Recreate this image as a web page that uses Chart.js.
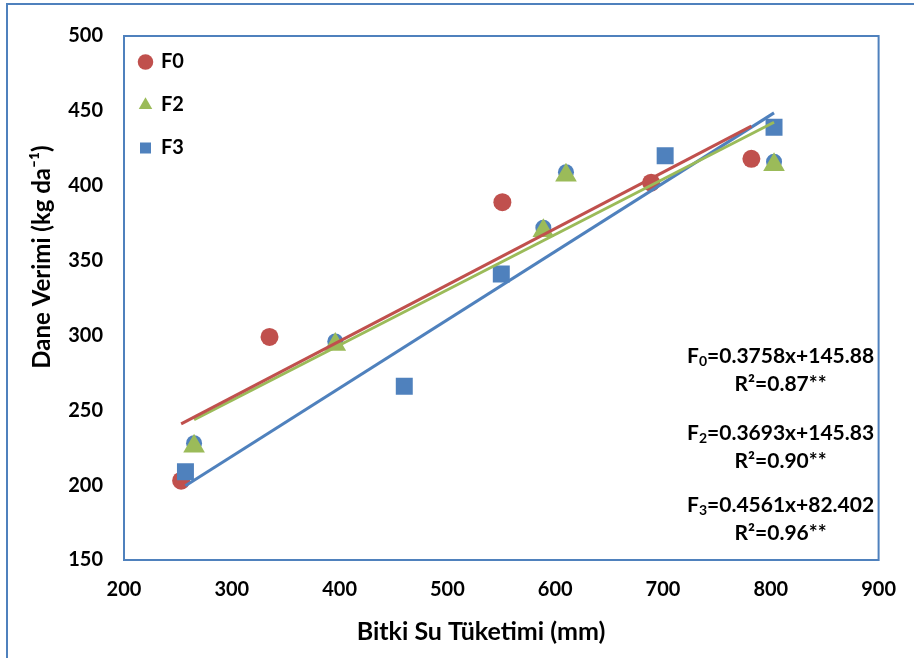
<!DOCTYPE html>
<html lang="tr">

<head>
    <meta charset="UTF-8">
    <title>Dane Verimi - Bitki Su Tüketimi</title>
    <script src="https://cdn.jsdelivr.net/npm/chart.js"></script>
    <style>
        body { margin: 0; background: #fff; overflow: hidden; }
        #wrap { position: relative; width: 914px; height: 658px; }
    </style>
</head>

<body>
    <div id="wrap">
        <canvas id="chart" width="914" height="658"></canvas>
    </div>

    <script>
        // measured points (x = water use mm, y = yield kg/da)
        const f0X = [253, 335, 551, 689, 782];
        const f0Y = [203, 299, 389, 402, 418];
        const f2X = [265, 396, 589, 610, 803];
        const f2Y = [226, 294, 370, 407, 414];
        const f3X = [257, 460, 550, 702, 803];
        const f3Y = [209, 266, 341, 420, 439];
        // blue circles hidden under the triangles (no legend entry)
        const f1X = [265, 396, 589, 610, 803];
        const f1Y = [228, 296, 372, 409, 416];

        // trendline equations shown on the chart: [slope, intercept, R2]
        const f0Fit = [0.3758, 145.88, '0.87'];
        const f2Fit = [0.3693, 145.83, '0.90'];
        const f3Fit = [0.4561, 82.402, '0.96'];

        const xTicks = [200, 300, 400, 500, 600, 700, 800, 900];
        const yTicks = [150, 200, 250, 300, 350, 400, 450, 500];

        const RED = '#C0504D', GREEN = '#9BBB59', BLUE = '#4F81BD';
        const FONT = 'Lato, "Open Sans", sans-serif';

        function points(xs, ys) {
            return xs.map((x, i) => ({ x: x, y: ys[i] }));
        }

        function trend(xs, fit) {
            const lo = Math.min(...xs), hi = Math.max(...xs);
            return [{ x: lo, y: fit[0] * lo + fit[1] }, { x: hi, y: fit[0] * hi + fit[1] }];
        }

        // frames, legend placement and the axis titles
        const frames = {
            id: 'frames',
            afterLayout(chart) {
                // put the legend in the top-left corner of the plot
                chart.legend.top = chart.chartArea.top - 7;
                chart.legend.left = chart.chartArea.left - 7;
            },
            beforeDraw(chart) {
                const ctx = chart.ctx;
                ctx.save();
                ctx.strokeStyle = BLUE;
                ctx.lineWidth = 2;
                ctx.strokeRect(7, 4, 2000, 2000);
                ctx.fillStyle = '#000';
                ctx.font = 'bold 25px ' + FONT;
                ctx.textAlign = 'center';
                ctx.textBaseline = 'middle';
                // titles sit a little off-centre in the original
                ctx.fillText('Bitki Su Tüketimi (mm)', 481, 632);
                ctx.translate(42, 257);
                ctx.rotate(-Math.PI / 2);
                ctx.font = 'bold 24px ' + FONT;
                ctx.fillText('Dane Verimi (kg da⁻¹)', 0, 0);
                ctx.restore();
            },
            afterDatasetsDraw(chart) {
                const a = chart.chartArea, ctx = chart.ctx;
                ctx.save();
                ctx.strokeStyle = BLUE;
                ctx.lineWidth = 2;
                ctx.strokeRect(a.left, a.top, a.right - a.left, a.bottom - a.top);
                ctx.restore();
            }
        };

        // regression equations with subscript labels
        const equations = {
            id: 'equations',
            afterDraw(chart) {
                const ctx = chart.ctx;
                const a = chart.chartArea;
                const cx = a.right - 98;
                const rows = [['0', f0Fit, a.top + 320], ['2', f2Fit, a.top + 397], ['3', f3Fit, a.top + 469]];
                ctx.save();
                ctx.fillStyle = '#000';
                ctx.textBaseline = 'middle';
                ctx.textAlign = 'left';
                rows.forEach(([sub, fit, y]) => {
                    const big = 'bold 21px ' + FONT, small = 'bold 14px ' + FONT;
                    const rest = '=' + fit[0] + 'x+' + fit[1];
                    ctx.font = big;
                    const wF = ctx.measureText('F').width, wR = ctx.measureText(rest).width;
                    ctx.font = small;
                    const wS = ctx.measureText(sub).width;
                    let x = cx - (wF + wS + wR) / 2;
                    ctx.font = big;
                    ctx.fillText('F', x, y);
                    ctx.font = small;
                    ctx.fillText(sub, x + wF, y + 5);
                    ctx.font = big;
                    ctx.fillText(rest, x + wF + wS, y);
                    ctx.textAlign = 'center';
                    ctx.fillText('R²=' + fit[2] + '**', cx, y + 28);
                    ctx.textAlign = 'left';
                });
                ctx.restore();
            }
        };

        const ctx = document.getElementById('chart').getContext('2d');
        new Chart(ctx, {
            type: 'scatter',
            data: {
                datasets: [
                    { label: 'F0 trend', type: 'line', data: trend(f0X, f0Fit), borderColor: RED, borderWidth: 3, pointRadius: 0, order: 0 },
                    { label: 'F2 trend', type: 'line', data: trend(f2X, f2Fit), borderColor: GREEN, borderWidth: 3, pointRadius: 0, order: 0 },
                    { label: 'F3 trend', type: 'line', data: trend(f3X, f3Fit), borderColor: BLUE, borderWidth: 3, pointRadius: 0, order: 0 },
                    { label: 'F0', data: points(f0X, f0Y), pointStyle: 'circle', pointRadius: 9, backgroundColor: RED, borderColor: RED, borderWidth: 0, order: 3 },
                    { label: 'F2', data: points(f2X, f2Y), pointStyle: 'triangle', pointRadius: 12.5, backgroundColor: GREEN, borderColor: GREEN, borderWidth: 0, order: 2 },
                    { label: 'F3', data: points(f3X, f3Y), pointStyle: 'rect', pointRadius: 12, backgroundColor: BLUE, borderColor: BLUE, borderWidth: 0, order: 1 },
                    { label: 'F1', data: points(f1X, f1Y), pointStyle: 'circle', pointRadius: 8, backgroundColor: BLUE, borderColor: BLUE, borderWidth: 0, order: 4 }
                ]
            },
            options: {
                responsive: false,
                animation: false,
                layout: { padding: { left: 10, top: 36, right: 30, bottom: 0 } },
                plugins: {
                    tooltip: { enabled: false },
                    legend: {
                        position: 'chartArea',
                        align: 'start',
                        labels: {
                            usePointStyle: true,
                            boxWidth: 11,
                            boxHeight: 11,
                            padding: 23,
                            color: '#000',
                            font: { family: FONT, size: 20, weight: 'bold' },
                            filter: item => ['F0', 'F2', 'F3'].includes(item.text),
                            sort: (a, b) => a.datasetIndex - b.datasetIndex
                        }
                    }
                },
                scales: {
                    x: {
                        type: 'linear',
                        min: 200, max: 900,
                        afterBuildTicks: s => { s.ticks = xTicks.map(v => ({ value: v })); },
                        afterFit: s => { s.height = 98; },
                        grid: { display: false, drawTicks: false },
                        border: { display: false },
                        ticks: { color: '#000', padding: 18, font: { family: FONT, size: 20, weight: 'bold' } }
                    },
                    y: {
                        type: 'linear',
                        min: 150, max: 500,
                        afterBuildTicks: s => { s.ticks = yTicks.map(v => ({ value: v })); },
                        afterFit: s => { s.width = 114; },
                        grid: { display: false, drawTicks: false },
                        border: { display: false },
                        ticks: { color: '#000', padding: 21, font: { family: FONT, size: 20, weight: 'bold' } }
                    }
                }
            },
            plugins: [frames, equations]
        });
    </script>
</body>

</html>
